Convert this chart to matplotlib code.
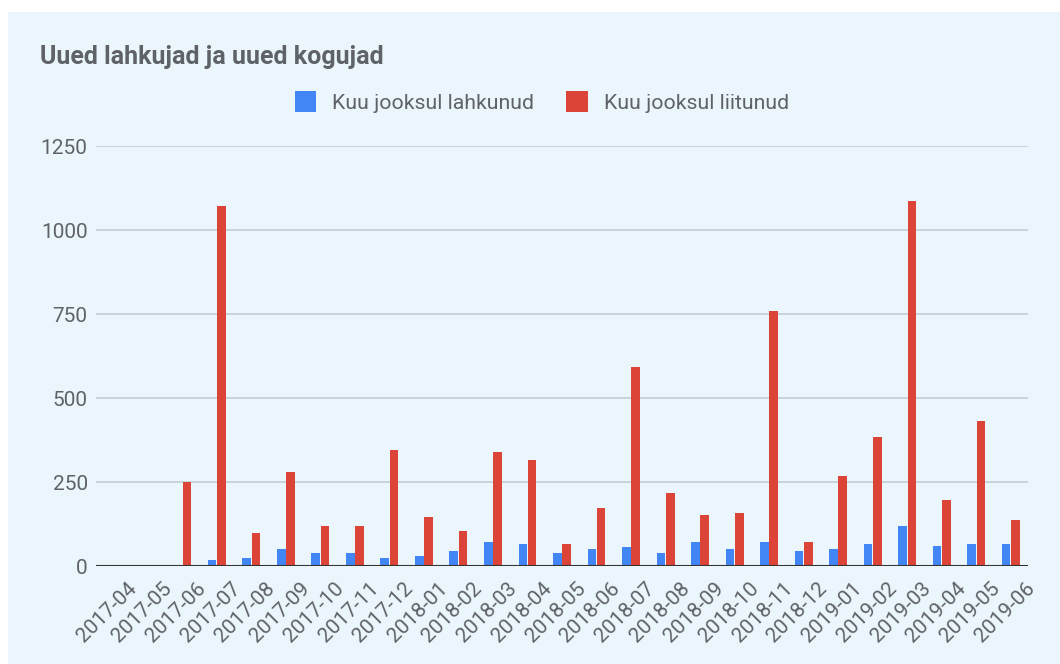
import numpy as np
import matplotlib.pyplot as plt
from matplotlib.patches import Rectangle
from matplotlib.transforms import ScaledTranslation

plt.rcParams['font.family'] = ['Roboto', 'DejaVu Sans']

months = ['2017-04', '2017-05', '2017-06', '2017-07', '2017-08', '2017-09', '2017-10',
          '2017-11', '2017-12', '2018-01', '2018-02', '2018-03', '2018-04', '2018-05',
          '2018-06', '2018-07', '2018-08', '2018-09', '2018-10', '2018-11', '2018-12',
          '2019-01', '2019-02', '2019-03', '2019-04', '2019-05', '2019-06']
lahkunud = [0, 0, 0, 18, 24, 51, 39, 39, 24, 29, 45, 72, 66, 39,
            51, 56, 39, 72, 51, 72, 45, 51, 66, 120, 61, 66, 66]
liitunud = [0, 0, 251, 1071, 98, 280, 120, 120, 344, 147, 104, 338, 316, 66,
            173, 592, 216, 152, 158, 759, 72, 269, 384, 1086, 195, 431, 136]

bg = '#ebf6fc'
txt = '#5f6368'

fig = plt.figure(figsize=(10.6, 6.64), dpi=100)
fig.patch.set_facecolor('white')
fig.patches.append(Rectangle((8 / 1060, 0), 1, 1 - 12 / 664, transform=fig.transFigure,
                             facecolor=bg, edgecolor='none', zorder=-10))

ax = fig.add_axes([96 / 1060, 98 / 664, 932 / 1060, 420 / 664])
ax.set_facecolor(bg)
ax.set_zorder(2)

x = np.arange(len(months))
w = 0.25
ax.bar(x - w / 2 - 0.01, lahkunud, w, color='#4285f4', label='Kuu jooksul lahkunud', zorder=3)
ax.bar(x + w / 2 + 0.01, liitunud, w, color='#db4437', label='Kuu jooksul liitunud', zorder=3)

ax.set_xlim(-0.5, len(months) - 0.5)
ax.set_ylim(0, 1250)
ax.set_yticks([0, 250, 500, 750, 1000, 1250])
ax.grid(axis='y', color='#c3ccd4', linewidth=1.2, zorder=0)
ax.axhline(0, color='#333333', linewidth=1.5, zorder=4)
for s in ax.spines.values():
    s.set_visible(False)
ax.tick_params(axis='both', length=0, colors=txt)
ax.tick_params(axis='y', labelsize=15, pad=6)
ax.set_xticks(x)
ax.set_xticklabels(months, rotation=45, ha='right', rotation_mode='anchor', fontsize=15)
ax.tick_params(axis='x', pad=9)
for lab in ax.get_xticklabels():
    lab.set_transform(lab.get_transform() + ScaledTranslation(0.14, 0, fig.dpi_scale_trans))

fig.text(40 / 1060, 1 - 57 / 664, 'Uued lahkujad ja uued kogujad', fontsize=18,
         fontweight='bold', color=txt, va='center')
leg = fig.legend(loc='center', bbox_to_anchor=(542 / 1060, 1 - 102 / 664), ncol=2, frameon=False,
                 fontsize=15.3, handlelength=1.0, handleheight=1.1, columnspacing=1.5,
                 handletextpad=0.77, labelcolor=txt)

fig.savefig('out.png', dpi=100, facecolor=fig.get_facecolor())
